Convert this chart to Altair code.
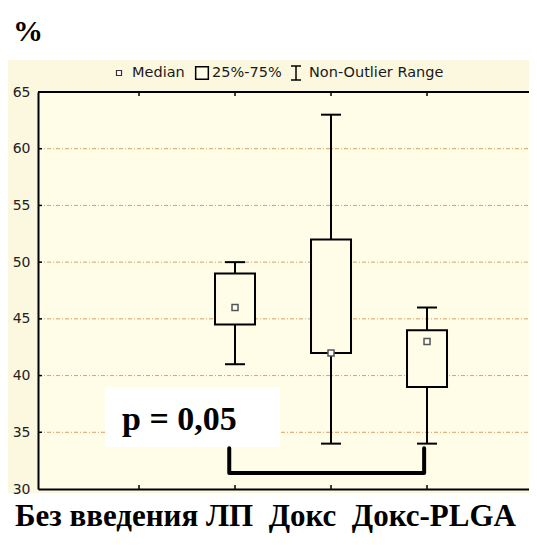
import altair as alt
import pandas as pd

# ---- data ----
groups = ["Без введения ЛП", "Докс", "Докс-PLGA"]
positions = [2, 3, 4]
whisker_low = [41, 34, 34]
q1 = [44.5, 42, 39]
median = [46, 42, 43]
q3 = [49, 52, 44]
whisker_high = [50, 63, 46]

y_ticks = [30, 35, 40, 45, 50, 55, 60, 65]
grid_vals = [35, 40, 45, 50, 55, 60]
x_ticks = [1, 2, 3, 4]

p_label = ["p = 0,05"]
bracket_x = [1.94, 1.94, 3.97, 3.97]
bracket_y = [33.6, 31.4, 31.4, 33.6]

# ---- styling ----
W, H = 491, 397
PLOT = "#FFFDE7"
OUTER = "#FCF7DF"
GRID = "#D6A066"
SANS = "DejaVu Sans"
SERIF = "Liberation Serif"

box_df = pd.DataFrame(dict(group=groups, pos=positions, low=whisker_low,
                           q1=q1, med=median, q3=q3, high=whisker_high))
one = pd.DataFrame({"k": [0]})

xs = alt.Scale(domain=[0, W / 98.0], nice=False, zero=False)
ys = alt.Scale(domain=[30, 65], nice=False, zero=False)
xax = alt.Axis(labels=False, ticks=False, grid=False, domain=True,
               domainColor="black", domainWidth=2, title=None, zindex=1)
yax = alt.Axis(values=y_ticks, labels=True, ticks=False, tickSize=0, grid=False,
               domain=True, domainColor="black", domainWidth=2, title=None,
               labelFont=SANS, labelFontSize=14, labelColor="#222222",
               labelPadding=8, labelFlush=False, labelOverlap=False, zindex=1)


def X(f):
    return alt.X(f, type="quantitative", scale=xs, axis=xax, title=None)


def Y(f):
    return alt.Y(f, type="quantitative", scale=ys, axis=yax, title=None)


outer = alt.Chart(one).mark_rect(color=OUTER).encode(
    x=alt.value(-30), x2=alt.value(W), y=alt.value(-32), y2=alt.value(401))
plotbg = alt.Chart(one).mark_rect(color=PLOT).encode(
    x=alt.value(0), x2=alt.value(W), y=alt.value(0), y2=alt.value(H))

grid = alt.Chart(pd.DataFrame({"v": grid_vals})).mark_rule(
    color=GRID, strokeWidth=1, strokeDash=[4, 2, 1, 2]).encode(
    y=Y("v"), x=alt.value(0), x2=alt.value(W))

ytick = alt.Chart(pd.DataFrame({"v": grid_vals})).mark_rule(
    color="black", strokeWidth=1.5).encode(
    y=Y("v"), x=alt.value(0), x2=alt.value(4))

xt_df = pd.DataFrame({"t": x_ticks})
xtick_bot = alt.Chart(xt_df).mark_rule(color="black", strokeWidth=1.5).encode(
    x=X("t"), y=alt.value(H), y2=alt.value(H - 4))
xtick_top = alt.Chart(xt_df).mark_rule(color="black", strokeWidth=1.5).encode(
    x=X("t"), y=alt.value(0), y2=alt.value(4))
topline = alt.Chart(one).mark_rule(color="black", strokeWidth=2).encode(
    x=alt.value(0), x2=alt.value(W), y=alt.value(0))

pbox = alt.Chart(one).mark_rect(color="white").encode(
    x=alt.value(67), x2=alt.value(242), y=alt.value(295), y2=alt.value(355))
ptext = alt.Chart(pd.DataFrame({"s": p_label})).mark_text(
    font=SERIF, fontWeight="bold", fontSize=34, align="left",
    baseline="alphabetic", color="black").encode(
    text="s:N", x=alt.value(84), y=alt.value(338))

bracket = alt.Chart(pd.DataFrame({"bx": bracket_x, "by": bracket_y,
                                  "o": list(range(len(bracket_x)))})).mark_line(
    color="black", strokeWidth=4, strokeJoin="round", strokeCap="round").encode(
    x=X("bx"), y=Y("by"), order="o:Q")

base = alt.Chart(box_df)
wlow = base.mark_rule(color="black", strokeWidth=2).encode(x=X("pos"), y=Y("low"), y2="q1")
whigh = base.mark_rule(color="black", strokeWidth=2).encode(x=X("pos"), y=Y("q3"), y2="high")
cap_lo = base.mark_tick(orient="horizontal", size=20, thickness=2, color="black",
                        opacity=1).encode(x=X("pos"), y=Y("low"))
cap_hi = base.mark_tick(orient="horizontal", size=20, thickness=2, color="black",
                        opacity=1).encode(x=X("pos"), y=Y("high"))
boxes = base.mark_bar(size=40, fill=PLOT, stroke="black", strokeWidth=2,
                      opacity=1).encode(x=X("pos"), y=Y("q1"), y2="q3")
meds = base.mark_square(size=36, fill="white", stroke="#555555", strokeWidth=1.5,
                        opacity=1).encode(x=X("pos"), y=Y("med"))

# ---- legend (drawn by hand, as in the reference) ----
LY = -19
LFS = 14.5
leg = [
    alt.Chart(one).mark_square(size=25, fill="white", stroke="#333333",
                               strokeWidth=1.2, opacity=1).encode(
        x=alt.value(81), y=alt.value(LY)),
    alt.Chart(pd.DataFrame({"s": ["Median"]})).mark_text(
        font=SANS, fontSize=LFS, align="left", baseline="middle", color="#1a1a1a").encode(
        text="s:N", x=alt.value(94), y=alt.value(LY)),
    alt.Chart(one).mark_square(size=160, fill=PLOT, stroke="black",
                               strokeWidth=1.5, opacity=1).encode(
        x=alt.value(164), y=alt.value(LY)),
    alt.Chart(pd.DataFrame({"s": ["25%-75%"]})).mark_text(
        font=SANS, fontSize=LFS, align="left", baseline="middle", color="#1a1a1a").encode(
        text="s:N", x=alt.value(174), y=alt.value(LY)),
    alt.Chart(one).mark_rule(color="black", strokeWidth=1.5).encode(
        x=alt.value(258), y=alt.value(LY - 7), y2=alt.value(LY + 7)),
    alt.Chart(one).mark_rule(color="black", strokeWidth=1.5).encode(
        x=alt.value(253), x2=alt.value(263), y=alt.value(LY - 7)),
    alt.Chart(one).mark_rule(color="black", strokeWidth=1.5).encode(
        x=alt.value(253), x2=alt.value(263), y=alt.value(LY + 7)),
    alt.Chart(pd.DataFrame({"s": ["Non-Outlier Range"]})).mark_text(
        font=SANS, fontSize=LFS, align="left", baseline="middle", color="#1a1a1a").encode(
        text="s:N", x=alt.value(271), y=alt.value(LY)),
]

title = alt.Chart(pd.DataFrame({"s": ["%"]})).mark_text(
    font=SERIF, fontWeight="bold", fontSize=30, align="left", baseline="alphabetic",
    color="black").encode(text="s:N", x=alt.value(-25), y=alt.value(-51))

# bottom caption: the three group names, separated by double spaces
caption = ("\u00a0\u00a0").join(groups)
cap = alt.Chart(pd.DataFrame({"s": [caption]})).mark_text(
    font=SERIF, fontWeight="bold", fontSize=31, align="left",
    baseline="alphabetic", color="black").encode(
    text="s:N", x=alt.value(-23), y=alt.value(434))

chart = alt.layer(
    outer, plotbg, grid, ytick, xtick_bot, xtick_top, topline,
    pbox, ptext, bracket,
    wlow, whigh, cap_lo, cap_hi, boxes, meds,
    *leg, title, cap,
).properties(
    width=W, height=H,
    padding={"left": 30, "top": 84, "right": 0, "bottom": 44},
    autosize=alt.AutoSizeParams(type="none"),
    background="white",
).configure_view(stroke=None)

chart.save("out.html", embed_options={"renderer": "svg", "actions": False})
